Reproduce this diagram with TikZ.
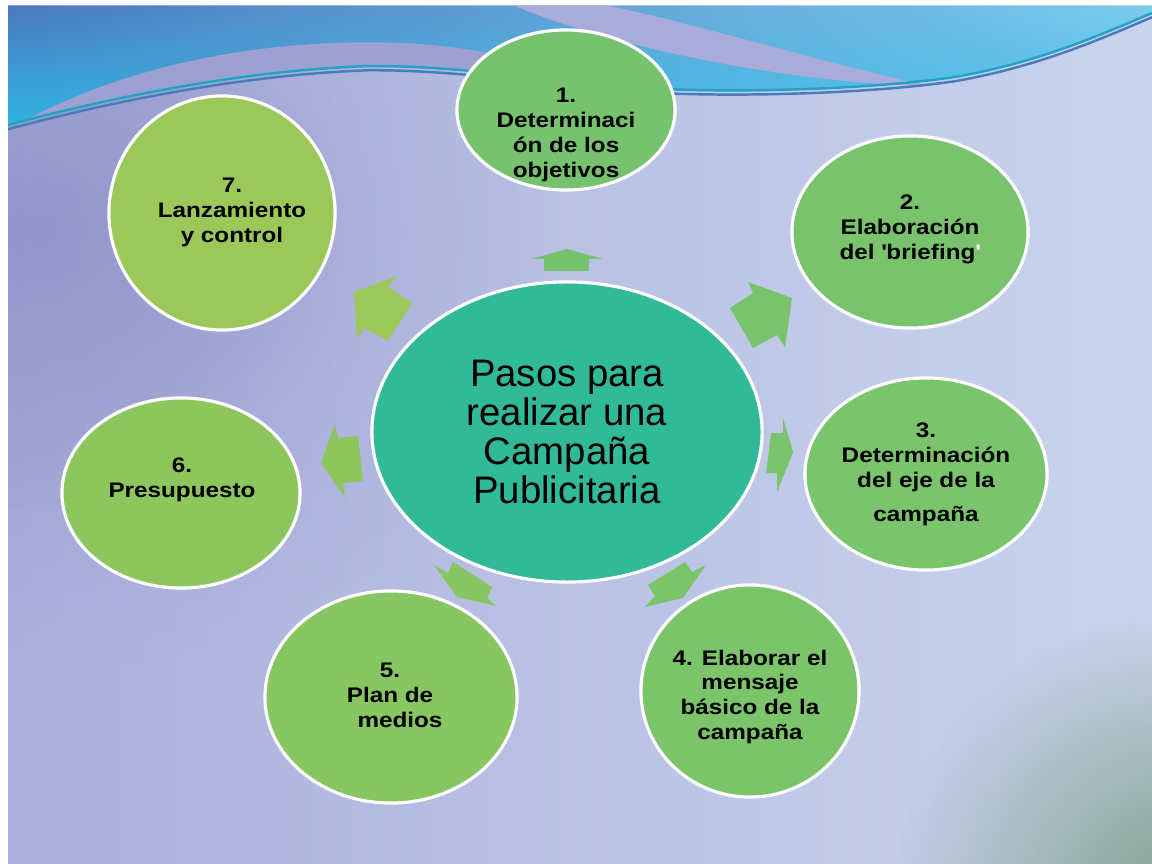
\documentclass[tikz,border=0pt]{standalone}
\usepackage{fontspec}
\setmainfont{Liberation Sans}
\newfontfamily\satfont[FakeStretch=1.15]{Liberation Sans}
\usetikzlibrary{shapes.geometric, fadings, shadings}

\definecolor{bgleft}{HTML}{AAAFDB}
\definecolor{bgmid}{HTML}{C4CDE9}
\definecolor{bgright}{HTML}{CAD4EC}
\definecolor{bgdeep}{HTML}{888BC4}
\definecolor{bgcorner}{HTML}{7F9F8A}
\definecolor{waveA}{HTML}{4A7BBF}
\definecolor{waveB}{HTML}{7ACBEE}
\definecolor{waveC}{HTML}{2FB3E0}
\definecolor{waveD}{HTML}{4FC0EA}
\definecolor{hump}{HTML}{9EA0D2}
\definecolor{ribbon}{HTML}{A9ABDA}
\definecolor{hub}{HTML}{31BA98}
\definecolor{c1}{HTML}{77C26F}
\definecolor{c2}{HTML}{79C36C}
\definecolor{c3}{HTML}{7AC46B}
\definecolor{c4}{HTML}{7CC469}
\definecolor{c5}{HTML}{88C661}
\definecolor{c6}{HTML}{8DC65D}
\definecolor{c7}{HTML}{9CC85A}

\tikzfading[name=glow, inner color=transparent!0, outer color=transparent!100]
\tikzfading[name=halfglow, inner color=transparent!55, outer color=transparent!100]

\tikzset{
  sat/.style = {ellipse, draw=white, line width=0.9pt, inner sep=0pt},
  hubnode/.style = {sat, fill=hub, minimum width=3.9cm, minimum height=3.0cm,
                    align=center, font=\fontsize{10.9}{11.1}\selectfont},
  lbl/.style = {align=center, inner sep=0pt, text=black,
                font=\satfont\bfseries\fontsize{6}{7.1}\selectfont},
  blockarrow/.style = {draw=none},
  waveline/.style = {line width=0.7pt},
}

\begin{document}
\begin{tikzpicture}[x=0.01cm, y=-0.01cm]
  \useasboundingbox (0,0) rectangle (1152,864);
  \fill[white] (0,0) rectangle (1152,864);

  % fondo
  \begin{scope}
    \clip (8,6) rectangle (1152,864);
    \shade[left color=bgleft, middle color=bgmid, right color=bgright] (8,6) rectangle (1152,864);
    \fill[bgdeep, path fading=halfglow] (40,230) ellipse (520 and 440);
    \fill[bgdeep, path fading=halfglow] (40,230) ellipse (330 and 280);
    \fill[bgcorner, path fading=glow] (1190,910) circle (300);
    \shade[upper left=waveA, upper right=waveB, lower left=waveC, lower right=waveD]
      (8,6) -- (1152,6) -- (1152,13) .. controls (1100,35) and (1040,62) .. (955,77)
      .. controls (880,88) and (760,93) .. (662,89) .. controls (560,85) and (480,66) .. (370,66)
      .. controls (250,70) and (120,95) .. (8,125) -- cycle;
    \fill[hump] (30,118) .. controls (150,55) and (300,36) .. (420,44)
      .. controls (500,50) and (560,70) .. (600,86) .. controls (520,78) and (450,66) .. (370,66)
      .. controls (250,70) and (120,95) .. (30,118) -- cycle;
    \fill[ribbon] (515,6) -- (610,6) .. controls (700,25) and (820,62) .. (930,86)
      .. controls (800,84) and (620,50) .. (515,6) -- cycle;
    \draw[waveline, draw=waveC!70!teal] (8,125) .. controls (120,95) and (250,70) .. (370,66)
      .. controls (480,66) and (560,85) .. (662,89) .. controls (760,93) and (880,88) .. (955,77)
      .. controls (1040,62) and (1100,35) .. (1152,13);
    \draw[waveline, draw=waveA, yshift=-1.2pt] (8,125) .. controls (120,95) and (250,70) .. (370,66)
      .. controls (480,66) and (560,85) .. (662,89) .. controls (760,93) and (880,88) .. (955,77)
      .. controls (1040,62) and (1100,35) .. (1152,13);
  \end{scope}

  % centro y pasos
  \node (hub) [hubnode] at (567,432) {Pasos para\\realizar una\\Campaña\\Publicitaria};
  \node (s1) [sat, fill=c1, minimum width=2.18cm, minimum height=1.60cm] at (566,110) {};
  \node (s2) [sat, fill=c2, minimum width=2.36cm, minimum height=1.92cm] at (910,232) {};
  \node (s3) [sat, fill=c3, minimum width=2.42cm, minimum height=1.92cm] at (926,474) {};
  \node (s4) [sat, fill=c4, minimum width=2.18cm, minimum height=2.12cm] at (750,691) {};
  \node (s5) [sat, fill=c5, minimum width=2.52cm, minimum height=2.12cm] at (391,697) {};
  \node (s6) [sat, fill=c6, minimum width=2.38cm, minimum height=1.90cm] at (181,493) {};
  \node (s7) [sat, fill=c7, minimum width=2.26cm, minimum height=2.34cm] at (222,213) {};

  \node (l1) [lbl] at (566,135) {1.\\Determinaci\\ón de los\\objetivos};
  \node (l2) [lbl] at (910,229) {2.\\Elaboración\\del \textquotesingle briefing{\color{white}\textquotesingle}};
  \node (l3) [lbl] at (926,474) {3.\\Determinación\\del eje de la\\[2.5pt]campaña};
  \node (l4) [lbl] at (750,697) {4. Elaborar el\\mensaje\\básico de la\\campaña};
  \node (l5) [lbl] at (390,695) {5.\\Plan de\hspace*{3.4mm}\\\hspace*{2mm}medios};
  \node (l6) [lbl] at (182,480) {6.\\Presupuesto};
  \node (l7) [lbl] at (232,212) {7.\\Lanzamiento\\y control};

  % flechas
  \fill[blockarrow, c1] (567,249) -- (603,259) -- (589,259) -- (589,271) -- (544,271) -- (544,259) -- (531,259) -- cycle;
  \fill[blockarrow, c2] (792,298) -- (748,282) -- (753,293) -- (730,308) -- (753,348) -- (777,335) -- (785,347) -- cycle;
  \fill[blockarrow, c3] (793,452) -- (783,418) -- (783,433) -- (771,433) -- (766,473) -- (777,473) -- (777,492) -- cycle;
  \fill[blockarrow, c4] (706,565) -- (692,572) -- (685,562) -- (648,585) -- (655,596) -- (645,607) -- (683,598) -- cycle;
  \fill[blockarrow, c5] (434,565) -- (448,573) -- (453,562) -- (492,587) -- (487,598) -- (496,606) -- (457,597) -- cycle;
  \fill[blockarrow, c6] (321,463) -- (335,424) -- (338,438) -- (358,436) -- (363,481) -- (343,483) -- (345,498) -- cycle;
  \fill[blockarrow, c7] (354,292) -- (397,276) -- (388,287) -- (412,303) -- (388,341) -- (365,328) -- (357,338) -- cycle;
\end{tikzpicture}
\end{document}
